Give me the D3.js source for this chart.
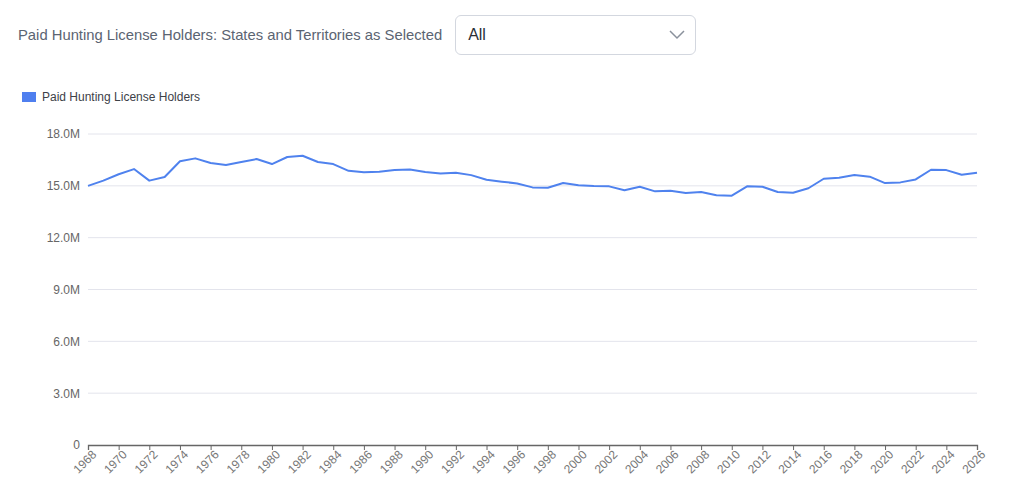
<!DOCTYPE html>
<html>
<head>
<meta charset="utf-8">
<script src="https://cdn.jsdelivr.net/npm/d3@7"></script>
<style>
  body { margin: 0; background: #fff; font-family: "Liberation Sans", Arial, sans-serif; }
  .header { position: absolute; left: 18px; top: 15px; height: 40px; display: flex; align-items: center; }
  .header .title { font-size: 14.8px; color: #5b6472; margin-right: 13px; }
  .header .select { width: 241px; height: 40px; border: 1px solid #d3d7df; border-radius: 6px; box-sizing: border-box; display: flex; align-items: center; justify-content: space-between; padding: 0 10px 0 12px; font-size: 16px; color: #2b2f36; }
  #chart { position: absolute; left: 0; top: 0; }
</style>
</head>
<body>
<div id="chart"></div>
<div class="header">
  <span class="title">Paid Hunting License Holders: States and Territories as Selected</span>
  <div class="select"><span>All</span>
    <svg width="16" height="10"><path d="M1,1 L8,8 L15,1" fill="none" stroke="#8a919c" stroke-width="1.5"/></svg>
  </div>
</div>
<script>
// Data (millions of license holders)
var years = d3.range(1968, 2027);
var holders = [
  15.0, 15.3, 15.67, 15.97, 15.3, 15.51, 16.42, 16.59, 16.32, 16.2,
  16.38, 16.55, 16.26, 16.67, 16.74, 16.38, 16.26, 15.87, 15.78, 15.82,
  15.91, 15.95, 15.8, 15.72, 15.76, 15.62, 15.35, 15.24, 15.14, 14.91,
  14.89, 15.16, 15.03, 14.99, 14.97, 14.74, 14.95, 14.68, 14.72, 14.59,
  14.64, 14.45, 14.43, 14.97, 14.95, 14.64, 14.6, 14.86, 15.41, 15.47,
  15.63, 15.53, 15.16, 15.2, 15.37, 15.93, 15.91, 15.64, 15.76
];
var yTicks = [0, 3, 6, 9, 12, 15, 18];
var seriesName = "Paid Hunting License Holders";

var svgWidth = 1009;
var svgHeight = 500;
var margin = { top: 134, right: 32, bottom: 55, left: 88 };
var chartWidth = svgWidth - margin.left - margin.right;
var chartHeight = svgHeight - margin.top - margin.bottom;

var data = years.map((y, i) => ({ year: y, value: holders[i] }));

var svg = d3.select("#chart")
  .append("svg")
  .attr("width", svgWidth)
  .attr("height", svgHeight);

// legend
var legend = svg.append("g").attr("transform", "translate(22, 92)");
legend.append("rect")
  .attr("width", 14).attr("height", 10)
  .attr("fill", "#4f7fef");
legend.append("text")
  .attr("x", 20).attr("y", 5)
  .attr("dominant-baseline", "central")
  .attr("font-size", "12px")
  .attr("fill", "#3d4148")
  .text(seriesName);

var chartGroup = svg.append("g")
  .attr("transform", `translate(${margin.left}, ${margin.top})`);

var x = d3.scaleLinear()
  .domain([1968, 2026])
  .range([0, chartWidth]);

var y = d3.scaleLinear()
  .domain([0, 18])
  .range([chartHeight, 0]);

// gridlines
chartGroup.selectAll(".grid")
  .data(yTicks.filter(d => d > 0))
  .join("line")
  .attr("class", "grid")
  .attr("x1", 0).attr("x2", chartWidth)
  .attr("y1", d => y(d)).attr("y2", d => y(d))
  .attr("stroke", "#e3e4ec")
  .attr("stroke-width", 1);

// y axis labels
var leftAxis = d3.axisLeft(y)
  .tickValues(yTicks)
  .tickSize(0)
  .tickPadding(8)
  .tickFormat(d => d === 0 ? "0" : d3.format(".1f")(d) + "M");

var yAxis = chartGroup.append("g").call(leftAxis);
yAxis.select(".domain").remove();
yAxis.selectAll("text")
  .attr("font-family", "Liberation Sans, Arial, sans-serif")
  .attr("font-size", "12px")
  .attr("fill", "#666");

// x axis
var bottomAxis = d3.axisBottom(x)
  .tickValues(d3.range(1968, 2027, 2))
  .tickSize(5)
  .tickFormat(d3.format("d"));

var xAxis = chartGroup.append("g")
  .attr("transform", `translate(0, ${chartHeight})`)
  .call(bottomAxis);
xAxis.select(".domain").attr("stroke", "#666").attr("stroke-width", 1.3);
xAxis.selectAll(".tick line").attr("stroke", "#666");
xAxis.selectAll("text")
  .attr("font-family", "Liberation Sans, Arial, sans-serif")
  .attr("font-size", "12px")
  .attr("fill", "#777")
  .attr("text-anchor", "end")
  .attr("dx", "-0.1em")
  .attr("dy", "0.45em")
  .attr("transform", "rotate(-45)");

// line
var line = d3.line()
  .x(d => x(d.year))
  .y(d => y(d.value));

chartGroup.append("path")
  .datum(data)
  .attr("fill", "none")
  .attr("stroke", "#4f82ee")
  .attr("stroke-width", 2)
  .attr("stroke-linejoin", "round")
  .attr("d", line);
</script>
</body>
</html>
